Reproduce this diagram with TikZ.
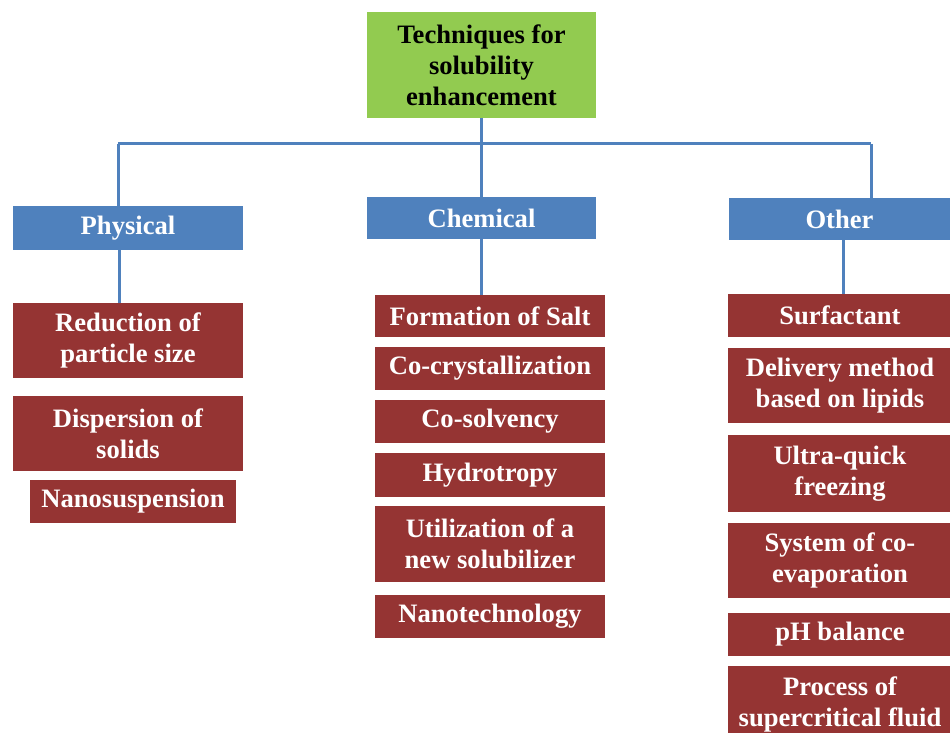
\documentclass[tikz,border=0pt]{standalone}
\usepackage{fontspec}
\setmainfont{Liberation Serif}
\definecolor{rootgreen}{RGB}{146,203,80}
\definecolor{catblue}{RGB}{79,129,189}
\definecolor{itemred}{RGB}{149,52,51}
\begin{document}
\begin{tikzpicture}[x = 0.5pt, y = -0.5pt,
        box/.style = {rectangle, inner sep = 0pt, align = center, font = \fontsize{13.3}{15.5}\selectfont\bfseries},
        root/.style = {box, fill = rootgreen, text = black},
        cat/.style = {box, fill = catblue, text = white, minimum height = 21pt},
        item/.style = {box, fill = itemred, text = white},
        link/.style = {catblue, line width = 1.5pt}]
    \useasboundingbox (0, 0) rectangle (950, 733);
    % root and categories
    \node [root, minimum width = 114.5pt, minimum height = 53pt] (root) at (481.5, 65) {Techniques for\\solubility\\enhancement};
    \node [cat, minimum width = 115pt, minimum height = 22pt] (phys) at (128, 228) {Physical};
    \node [cat, minimum width = 114.5pt] (chem) at (481.5, 218) {Chemical};
    \node [cat, minimum width = 111pt] (other) at (839.5, 219) {Other};
    % physical
    \node [item, minimum width = 115pt, minimum height = 37.5pt] (phys1) at (128, 340.5) {Reduction of\\particle size};
    \node [item, minimum width = 115pt, minimum height = 37.5pt] (phys2) at (128, 433.5) {Dispersion of\\solids};
    \node [item, minimum width = 103pt, minimum height = 21.5pt] (phys3) at (133, 501.5) {Nanosuspension};
    % chemical
    \node [item, minimum width = 115pt, minimum height = 21pt] (chem1) at (490, 316) {Formation of Salt};
    \node [item, minimum width = 115pt, minimum height = 21.5pt] (chem2) at (490, 368.5) {Co-crystallization};
    \node [item, minimum width = 115pt, minimum height = 21.5pt] (chem3) at (490, 421.5) {Co-solvency};
    \node [item, minimum width = 115pt, minimum height = 22pt] (chem4) at (490, 475) {Hydrotropy};
    \node [item, minimum width = 115pt, minimum height = 38pt] (chem5) at (490, 544) {Utilization of a\\new solubilizer};
    \node [item, minimum width = 115pt, minimum height = 21.5pt] (chem6) at (490, 616.5) {Nanotechnology};
    % other
    \node [item, minimum width = 112pt, minimum height = 21.5pt] (other1) at (840, 315.5) {Surfactant};
    \node [item, minimum width = 112pt, minimum height = 37.5pt] (other2) at (840, 385.5) {Delivery method\\based on lipids};
    \node [item, minimum width = 112pt, minimum height = 38.5pt] (other3) at (840, 473.5) {Ultra-quick\\freezing};
    \node [item, minimum width = 112pt, minimum height = 37.5pt] (other4) at (840, 560.5) {System of co-\\evaporation};
    \node [item, minimum width = 112pt, minimum height = 21.5pt] (other5) at (840, 634.5) {pH balance};
    \node [item, minimum width = 112pt, minimum height = 38pt] (other6) at (840, 704) {Process of\\supercritical fluid};
    % connectors
    \coordinate (busL) at (118, 144);
    \coordinate (busR) at (871, 144);
    \draw [link] (busL) -- (busR);
    \draw [link] (root.south) -- (chem.north);
    \draw [link] (busL) -- (busL |- phys.north);
    \draw [link] (busR) -- (busR |- other.north);
    \draw [link] (phys.south -| busL) ++(1, 0) coordinate (physdrop) -- (physdrop |- phys1.north);
    \draw [link] (chem.south) -- (chem.south |- chem1.north);
    \coordinate (otherdrop) at (843, 240);
    \draw [link] (otherdrop) -- (otherdrop |- other1.north);
\end{tikzpicture}
\end{document}
